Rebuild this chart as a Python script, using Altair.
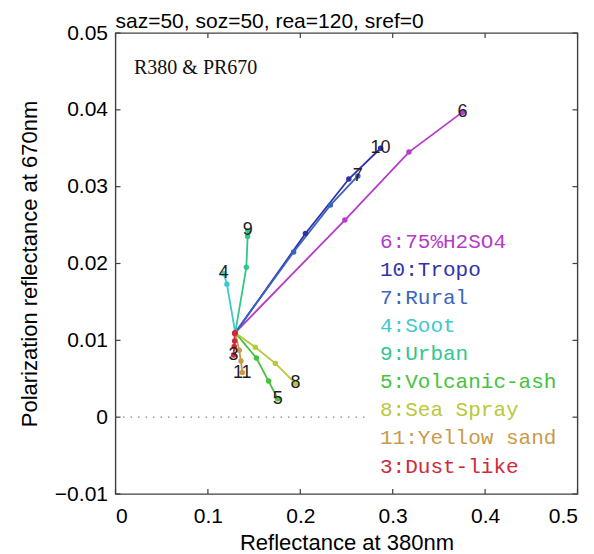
import altair as alt
import pandas as pd

# ---- data ----
series_ids = ["6", "10", "7", "4", "9", "5", "8", "11", "3"]
legend_texts = ["6:75%H2SO4", "10:Tropo", "7:Rural", "4:Soot", "9:Urban",
                "5:Volcanic-ash", "8:Sea Spray", "11:Yellow sand", "3:Dust-like"]
colors = ["#b53cc8", "#3232a8", "#3a64c0", "#40c8d0", "#30c88a",
          "#46c23c", "#b8c83a", "#c89a4a", "#d0283a"]

x_6 = [0.1296, 0.2482, 0.3176, 0.3755]
y_6 = [0.0110, 0.02565, 0.0345, 0.0397]
x_10 = [0.1296, 0.2056, 0.2525, 0.2869]
y_10 = [0.0110, 0.0239, 0.0310, 0.0350]
x_7 = [0.1296, 0.1928, 0.2326, 0.2623]
y_7 = [0.0110, 0.0215, 0.0276, 0.0314]
x_4 = [0.1296, 0.1206, 0.1172]
y_4 = [0.0110, 0.0173, 0.0187]
x_9 = [0.1296, 0.1416, 0.1430, 0.1432]
y_9 = [0.0110, 0.0195, 0.0235, 0.0243]
x_5 = [0.1296, 0.1524, 0.1657, 0.1755]
y_5 = [0.0110, 0.0077, 0.0047, 0.0024]
x_8 = [0.1296, 0.1513, 0.1730, 0.1947]
y_8 = [0.0110, 0.0091, 0.0070, 0.0044]
x_11 = [0.1296, 0.1339, 0.1358, 0.1372]
y_11 = [0.0110, 0.0087, 0.0073, 0.0058]
x_3 = [0.1296, 0.1289, 0.1289, 0.1285, 0.1278]
y_3 = [0.0110, 0.0109, 0.0099, 0.0092, 0.0081]

x_ticks = [0, 0.1, 0.2, 0.3, 0.4, 0.5]
y_ticks = [-0.01, 0, 0.01, 0.02, 0.03, 0.04, 0.05]
zero_line_x = [0, 0.27]

title_text = "saz=50, soz=50, rea=120, sref=0"
inner_label = "R380 & PR670"

# ---- tables ----
xs = {"6": x_6, "10": x_10, "7": x_7, "4": x_4, "9": x_9,
      "5": x_5, "8": x_8, "11": x_11, "3": x_3}
ys = {"6": y_6, "10": y_10, "7": y_7, "4": y_4, "9": y_9,
      "5": y_5, "8": y_8, "11": y_11, "3": y_3}
rows = []
for s in series_ids:
    for i, (a, b) in enumerate(zip(xs[s], ys[s])):
        rows.append({"series": s, "order": i, "x": a, "y": b})
df = pd.DataFrame(rows)
ends = pd.DataFrame([{"series": s, "x": xs[s][-1], "y": ys[s][-1]} for s in series_ids])
leg = pd.DataFrame({"series": series_ids, "text": legend_texts,
                    "idx": list(range(len(series_ids)))})
zero_df = pd.DataFrame({"x": zero_line_x, "y": [0, 0]})
xt = pd.DataFrame({"x": x_ticks})
yt = pd.DataFrame({"y": y_ticks})

W, H = 462, 461
FONT = "Liberation Sans"

X = alt.X("x:Q", scale=alt.Scale(domain=[0, 0.5], nice=False, zero=False),
          axis=alt.Axis(values=x_ticks, title="Reflectance at 380nm",
                        labelExpr="datum.value == 0 ? '0' : format(datum.value, '.1f')",
                        ticks=False, domain=False, grid=False,
                        labelPadding=11, titlePadding=6))
Y = alt.Y("y:Q", scale=alt.Scale(domain=[-0.01, 0.05], nice=False, zero=False),
          axis=alt.Axis(values=y_ticks, title="Polarization reflectance at 670nm",
                        labelExpr="datum.value == 0 ? '0' : format(datum.value, '.2f')",
                        ticks=False, domain=False, grid=False,
                        labelPadding=8, titlePadding=13))
C = alt.Color("series:N", scale=alt.Scale(domain=series_ids, range=colors), legend=None)

zero = alt.Chart(zero_df).mark_line(color="#888888", strokeDash=[1.5, 6], strokeWidth=1.3).encode(x=X, y=Y)

lines = alt.Chart(df).mark_line(strokeWidth=1.8).encode(x=X, y=Y, color=C, order="order:Q")
pts = alt.Chart(df).mark_circle(size=30, opacity=1).encode(x=X, y=Y, color=C)
lab = alt.Chart(ends).mark_text(font=FONT, fontSize=18, color="#1e1e1e",
                                align="center", baseline="middle").encode(
    x=X, y=Y, text="series:N")

legend = alt.Chart(leg).transform_calculate(off="datum.idx * 28.1").mark_text(
    font="Liberation Mono", fontSize=21, align="left", baseline="middle").encode(
    x=alt.value(264.5), y=alt.value(208.7),
    yOffset=alt.YOffset("off:Q", scale=None),
    text="text:N", color=C)

inner = alt.Chart(pd.DataFrame({"t": [inner_label]})).mark_text(
    font="Liberation Serif", fontSize=20, align="left", baseline="alphabetic",
    color="#111111").encode(x=alt.value(18.5), y=alt.value(41), text="t:N")

top_title = alt.Chart(pd.DataFrame({"t": [title_text]})).mark_text(
    font=FONT, fontSize=21, align="left", baseline="alphabetic",
    color="#000000").encode(x=alt.value(0), y=alt.value(-5), text="t:N")

tick_col = "#404040"
bt = alt.Chart(xt).mark_rule(color=tick_col, strokeWidth=1.2).encode(x=X, y=alt.value(H), y2=alt.value(H - 5))
tt = alt.Chart(xt).mark_rule(color=tick_col, strokeWidth=1.2).encode(x=X, y=alt.value(0), y2=alt.value(5))
lt = alt.Chart(yt).mark_rule(color=tick_col, strokeWidth=1.2).encode(y=Y, x=alt.value(0), x2=alt.value(5))
rt = alt.Chart(yt).mark_rule(color=tick_col, strokeWidth=1.2).encode(y=Y, x=alt.value(W), x2=alt.value(W - 5))

chart = alt.layer(zero, bt, tt, lt, rt, lines, pts, lab, legend, inner, top_title).properties(
    width=W, height=H,
    autosize=alt.AutoSizeParams(type="none"),
    padding={"left": 107.5, "top": 25, "right": 5, "bottom": 60},
).configure_view(stroke="#404040", strokeWidth=1.4).configure_axis(
    labelFont=FONT, titleFont=FONT, labelFontSize=21, titleFontSize=22,
    labelColor="#000000", titleColor="#000000", titleFontWeight="normal"
)

chart.save("out.html", embed_options={"renderer": "svg", "actions": False})
